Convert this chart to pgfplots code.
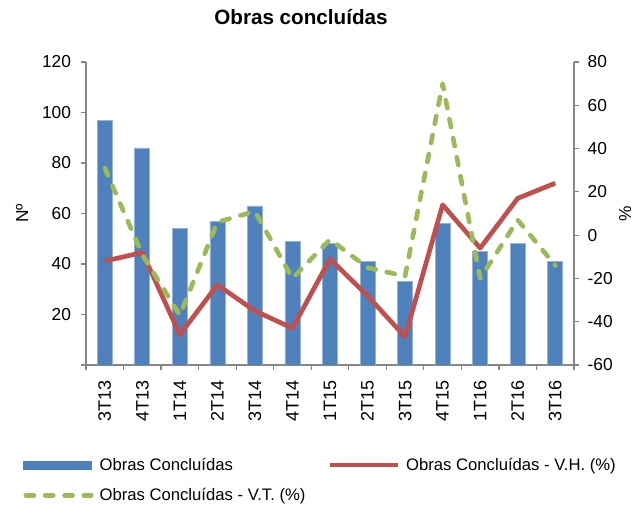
\documentclass[border=0pt]{standalone}
\usepackage{pgfplots}
\pgfplotsset{compat=1.18}
\usepackage{fontspec}
\setmainfont{Liberation Sans}
\definecolor{barblue}{HTML}{4F81BD}
\definecolor{baredge}{HTML}{95B3D7}
\definecolor{lred}{HTML}{C0504D}
\definecolor{lgreen}{HTML}{9BBB59}
\definecolor{axgray}{HTML}{868686}
\pgfplotsset{
 lineleg/.style={legend image code/.code={\draw[##1] (0pt,0pt) -- (51pt,0pt);}},
 dashleg/.style={legend image code/.code={\draw[##1] (2pt,0pt) -- (51pt,0pt);}},
 barleg/.style={legend image code/.code={\fill[barblue] (0pt,-3pt) rectangle (51pt,3pt);}},
 common/.style={
  at={(64.5pt,105pt)}, anchor=south west, scale only axis,
  width=366pt, height=227.25pt,
  xmin=-0.5, xmax=12.5,
  font=\fontsize{13}{15}\selectfont,
  /pgf/number format/assume math mode=true,
  axis line style={axgray, line width=0.9pt},
  tick style={axgray, line width=0.9pt},
  tick align=outside,
  major tick length=3.75pt,
  minor tick length=3.75pt,
 }
}
\begin{document}
\begin{tikzpicture}[x=1pt,y=1pt]
\path[use as bounding box] (0,0) rectangle (474.75,378.75);
\begin{axis}[common,
  ymin=0, ymax=120, ytick={0,20,...,120}, yticklabels={{},20,40,60,80,100,120},
  axis x line*=bottom, axis y line*=left,
  xtick={0,...,12},
  xticklabels={3T13,4T13,1T14,2T14,3T14,4T14,1T15,2T15,3T15,4T15,1T16,2T16,3T16},
  major x tick style={draw=none},
  minor xtick={-0.5,0.5,...,12.5},
  xticklabel style={rotate=90, anchor=east, inner xsep=7.5pt, font=\fontsize{13.5}{15}\selectfont},
  yticklabel style={xshift=-4pt},
  ylabel={Nº},
  ylabel style={at={(axis description cs:-0.131,0.5)}, anchor=center},
  title={Obras concluídas},
  title style={at={(axis description cs:0.4406,1.122)}, anchor=center, font=\fontsize{15.5}{18}\selectfont\bfseries},
]
\addplot[ybar, bar width=11.25pt, fill=barblue, draw=baredge, line width=0.5pt] coordinates {
(0,97) (1,86) (2,54) (3,57) (4,63) (5,49) (6,48) (7,41) (8,33) (9,56) (10,45) (11,48) (12,41)
};
\end{axis}
\begin{axis}[common,
  ymin=-60, ymax=80, ytick={-60,-40,...,80},
  axis y line*=right, axis x line=none,
  yticklabel style={xshift=3pt},
  ylabel={\%},
  ylabel style={at={(axis description cs:1.105,0.5)}, anchor=center},
  legend columns=2, legend cell align=left,
  legend style={draw=none, fill=none, at={(axis description cs:-0.1297,-0.297)}, anchor=north west,
    inner sep=0pt, row sep=8pt, font=\fontsize{12.5}{15}\selectfont,
    /tikz/every even column/.append style={column sep=12pt},
    nodes={inner xsep=4.5pt}},
]
\addlegendimage{barleg}
\addlegendentry{Obras Concluídas}
\addplot[lred, line width=3.5pt, line join=round, mark=none, lineleg] coordinates {
(0,-12) (1,-8) (2,-46) (3,-23) (4,-35) (5,-43) (6,-11) (7,-28) (8,-47) (9,14) (10,-6) (11,17) (12,24)
};
\addlegendentry{Obras Concluídas - V.H. (\%)}
\addplot[lgreen, line width=3.5pt, line cap=round, line join=round, dash pattern=on 6pt off 8.5pt, mark=none, dashleg] coordinates {
(0,31) (1,-9) (2,-37) (3,6) (4,11) (5,-20) (6,-2) (7,-15) (8,-19) (9,70) (10,-20) (11,7) (12,-14)
};
\addlegendentry{Obras Concluídas - V.T. (\%)}
\end{axis}
\end{tikzpicture}
\end{document}
